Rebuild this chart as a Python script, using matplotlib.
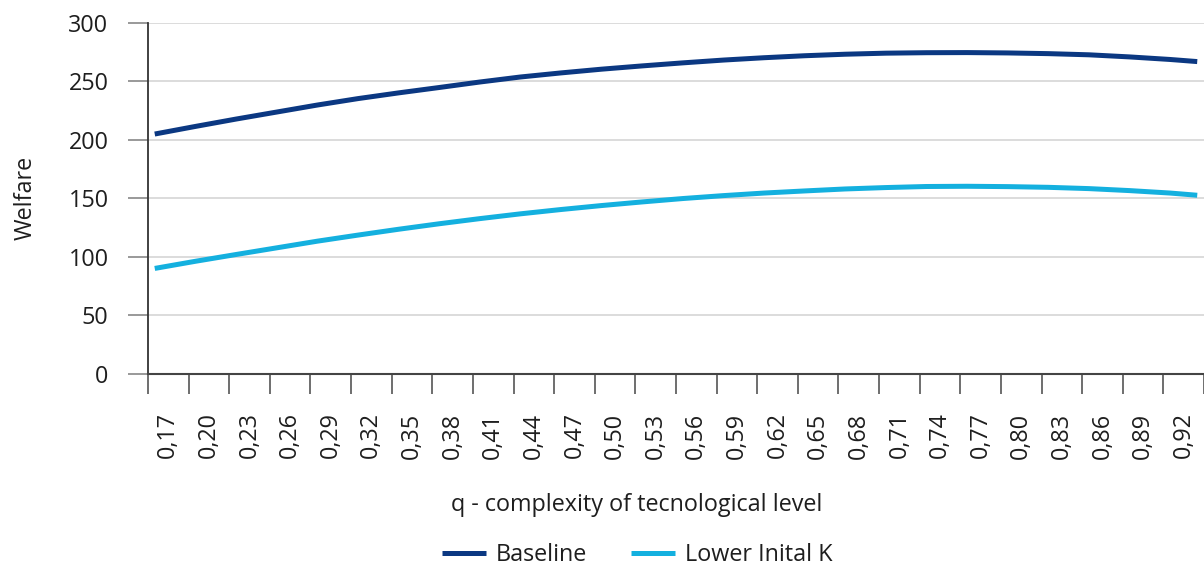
import matplotlib.pyplot as plt
from matplotlib.ticker import FixedLocator, MultipleLocator

plt.rcParams['font.family'] = ['Open Sans', 'DejaVu Sans']

# q values where the curves were read (category axis, step 0.01 between categories)
q = [0.17, 0.20, 0.23, 0.26, 0.29, 0.32, 0.35, 0.38, 0.41, 0.44, 0.47, 0.50, 0.53,
     0.56, 0.59, 0.62, 0.65, 0.68, 0.71, 0.74, 0.77, 0.80, 0.83, 0.86, 0.89, 0.92, 0.94]
baseline = [205.0, 211.5, 217.8, 223.8, 229.8, 235.3, 240.2, 244.8, 249.5, 253.8, 257.3,
            260.5, 263.3, 265.9, 268.3, 270.3, 272.0, 273.3, 274.2, 274.6, 274.7, 274.4,
            273.8, 272.8, 271.0, 268.8, 267.0]
lower_k = [90.0, 96.1, 101.9, 107.6, 113.3, 118.5, 123.5, 128.2, 132.6, 136.7, 140.4,
           143.8, 146.9, 149.8, 152.3, 154.5, 156.3, 158.0, 159.2, 160.1, 160.3, 160.0,
           159.4, 158.3, 156.6, 154.5, 152.6]
x_labels = ["0,17", "0,20", "0,23", "0,26", "0,29", "0,32", "0,35", "0,38", "0,41",
            "0,44", "0,47", "0,50", "0,53", "0,56", "0,59", "0,62", "0,65", "0,68",
            "0,71", "0,74", "0,77", "0,80", "0,83", "0,86", "0,89", "0,92"]

dark = "#0b3882"
light = "#14b0df"
txt = "#1e1e1e"
fs = 16.8

fig = plt.figure(figsize=(12.04, 5.67), dpi=100)
ax = fig.add_axes([0.1229, 0.3411, 0.8771, 0.6183])

ax.plot(q, baseline, color=dark, lw=3.6, label="Baseline", solid_capstyle="butt")
ax.plot(q, lower_k, color=light, lw=3.6, label="Lower Inital K", solid_capstyle="butt")

# category axis: 78 categories of width 0.01, ticks every 3 categories
ax.set_xlim(0.165, 0.945)
ax.set_ylim(0, 300)
ax.yaxis.set_major_locator(MultipleLocator(50))

group_edges = [0.165 + 0.03 * k for k in range(len(x_labels) + 1)]
group_centres = [e + 0.015 for e in group_edges[:-1]]
ax.xaxis.set_major_locator(FixedLocator(group_edges))
ax.xaxis.set_minor_locator(FixedLocator(group_centres))
ax.set_xticklabels([], minor=False)
ax.set_xticklabels(x_labels, minor=True, rotation=90, fontsize=fs, color=txt)
ax.tick_params(axis="x", which="major", length=14.4, width=1.2, color="#555555", direction="out")
ax.tick_params(axis="x", which="minor", length=0, pad=28)

ax.tick_params(axis="y", length=14.4, width=1.2, color="#888888", pad=14,
               labelsize=fs, labelcolor=txt)

ax.grid(axis="y", color="#d9d9d9", lw=1.3)
ax.set_axisbelow(True)
for s in ["top", "right"]:
    ax.spines[s].set_visible(False)
ax.spines["left"].set_color("#333333")
ax.spines["left"].set_linewidth(1.3)
ax.spines["bottom"].set_color("#444444")
ax.spines["bottom"].set_linewidth(1.5)

ax.set_ylabel("Welfare", fontsize=fs, color=txt, labelpad=22)
fig.text(0.529, 1 - 505 / 567, "q - complexity of tecnological level",
         ha="center", va="center", fontsize=fs, color=txt)

fig.legend(loc="center", bbox_to_anchor=(0.529, 1 - 555 / 567), ncol=2, frameon=False,
           fontsize=fs, handlelength=1.9, columnspacing=1.9, handletextpad=0.4,
           labelcolor=txt)

fig.savefig("out.png", dpi=100)
